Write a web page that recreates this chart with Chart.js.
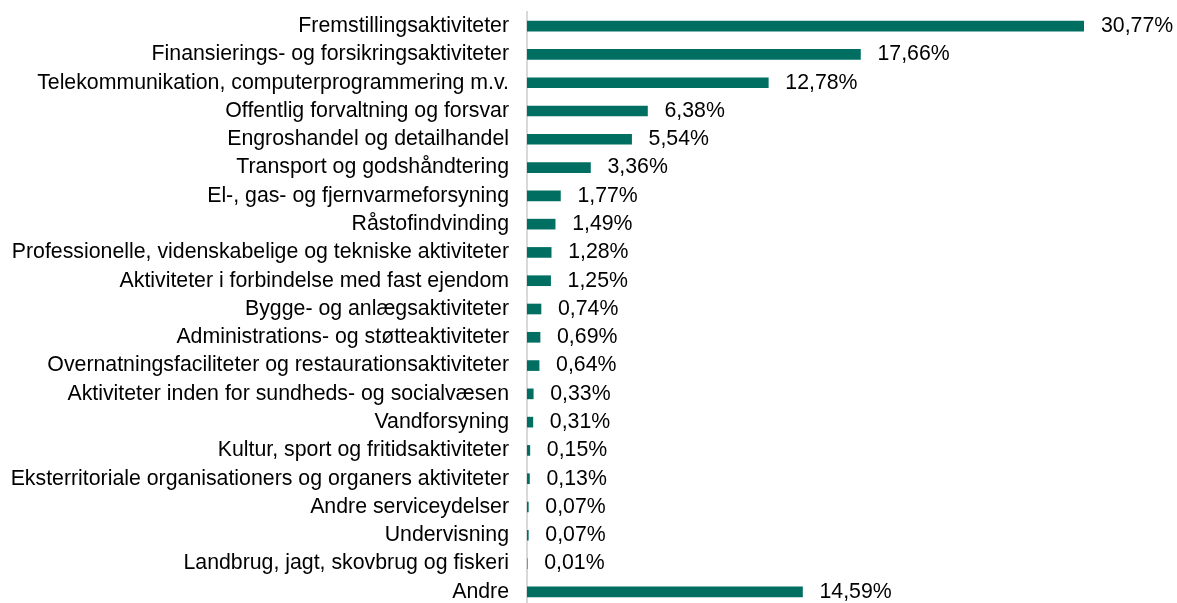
<!DOCTYPE html>
<html>
<head>
<meta charset="utf-8">
<script src="https://cdn.jsdelivr.net/npm/chart.js@4.4.1/dist/chart.umd.min.js"></script>
<style>
  html, body { margin: 0; padding: 0; background: #fff; overflow: hidden; }
  #wrap { width: 1177px; height: 606px; position: relative; }
</style>
</head>
<body>
<div id="wrap"><canvas id="chart_branche"></canvas></div>
<script>
var categories = [
    'Fremstillingsaktiviteter',
    'Finansierings- og forsikringsaktiviteter',
    'Telekommunikation, computerprogrammering m.v.',
    'Offentlig forvaltning og forsvar',
    'Engroshandel og detailhandel',
    'Transport og godshåndtering',
    'El-, gas- og fjernvarmeforsyning',
    'Råstofindvinding',
    'Professionelle, videnskabelige og tekniske aktiviteter',
    'Aktiviteter i forbindelse med fast ejendom',
    'Bygge- og anlægsaktiviteter',
    'Administrations- og støtteaktiviteter',
    'Overnatningsfaciliteter og restaurationsaktiviteter',
    'Aktiviteter inden for sundheds- og socialvæsen',
    'Vandforsyning',
    'Kultur, sport og fritidsaktiviteter',
    'Eksterritoriale organisationers og organers aktiviteter',
    'Andre serviceydelser',
    'Undervisning',
    'Landbrug, jagt, skovbrug og fiskeri',
    'Andre'
];
var shares = [
    30.77, 17.66, 12.78, 6.38, 5.54, 3.36, 1.77, 1.49, 1.28, 1.25,
    0.74, 0.69, 0.64, 0.33, 0.31, 0.15, 0.13, 0.07, 0.07, 0.01, 14.59
];
var axisMax = 29.5;

function formatPct(v) {
    return v.toFixed(2).replace('.', ',') + '%';
}

var fontFamily = '"Liberation Sans", Arial, sans-serif';
var fontSize = 21.3;

var chart_branche = new Chart(document.getElementById('chart_branche'), {
    type: 'bar',
    data: {
        labels: categories,
        datasets: [{
            data: shares,
            backgroundColor: '#006f62',
            borderWidth: 0,
            barThickness: 10
        }]
    },
    options: {
        indexAxis: 'y',
        animation: false,
        responsive: true,
        maintainAspectRatio: false,
        layout: {
            padding: { top: 12, right: 93, bottom: 0, left: 0 }
        },
        plugins: {
            legend: { display: false },
            tooltip: { enabled: false }
        },
        scales: {
            x: {
                display: false,
                min: 0,
                max: axisMax
            },
            y: {
                afterFit: function(scale) {
                    scale.width = 527;
                    scale.paddingTop = 0;
                    scale.paddingBottom = 0;
                },
                grid: { display: false, drawTicks: false },
                border: { display: true, color: '#d9d9d9', width: 2 },
                ticks: {
                    color: '#000',
                    padding: 18,
                    autoSkip: false,
                    font: { family: fontFamily, size: fontSize }
                }
            }
        }
    },
    plugins: [{
        id: 'valueLabels',
        afterDatasetsDraw: function(chart) {
            var ctx = chart.ctx;
            var meta = chart.getDatasetMeta(0);
            ctx.save();
            ctx.font = fontSize + 'px ' + fontFamily;
            ctx.fillStyle = '#000';
            ctx.textAlign = 'left';
            ctx.textBaseline = 'middle';
            meta.data.forEach(function(bar, i) {
                var x = Math.min(bar.x, chart.chartArea.right) + 17;
                ctx.fillText(formatPct(shares[i]), x, bar.y);
            });
            ctx.restore();
        }
    }]
});
</script>
</body>
</html>
